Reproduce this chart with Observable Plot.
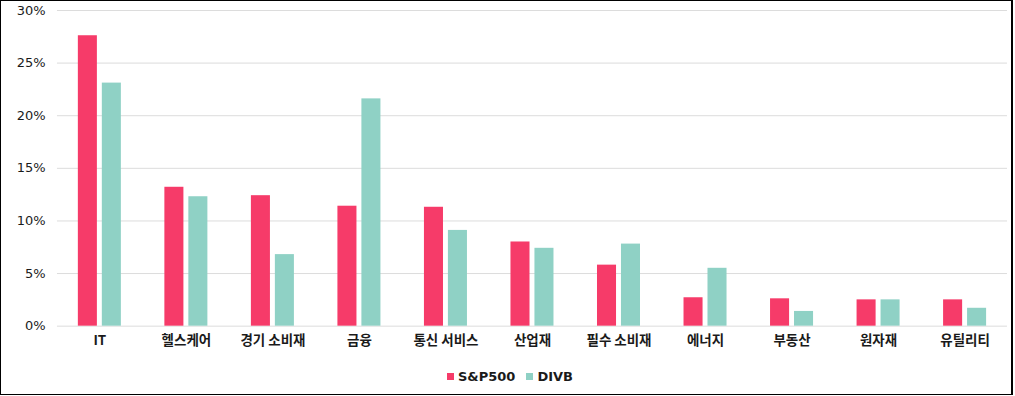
<!DOCTYPE html>
<html>
<head>
<meta charset="utf-8">
<script src="https://cdn.jsdelivr.net/npm/d3@7"></script>
<script src="https://cdn.jsdelivr.net/npm/@observablehq/plot@0.6"></script>
<style>
  html, body { margin: 0; padding: 0; background: #fff; }
  #frame {
    box-sizing: border-box;
    width: 1013px; height: 395px;
    border: 1px solid #000; border-right-width: 2px;
    position: relative; overflow: hidden;
    font-family: "DejaVu Sans", "Noto Sans CJK KR", sans-serif;
  }
  #chart svg { overflow: visible; }
  #legend {
    position: absolute; left: 0; right: 0; top: 368px;
    display: flex; justify-content: center; gap: 11px;
    padding-left: 8px;
    font-size: 13px; font-weight: 700; color: #1a1a1a;
  }
  .item { display: flex; align-items: center; gap: 4px; }
  .sw { width: 7px; height: 7px; display: inline-block; }
</style>
</head>
<body>
<div id="frame">
  <div id="chart"></div>
  <div id="legend"></div>
</div>
<script>
const categories = ["IT", "헬스케어", "경기 소비재", "금융", "통신 서비스", "산업재", "필수 소비재", "에너지", "부동산", "원자재", "유틸리티"];
const seriesNames = ["S&P500", "DIVB"];
const sp500 = [27.6, 13.2, 12.4, 11.4, 11.3, 8.0, 5.8, 2.7, 2.6, 2.5, 2.5];
const divb  = [23.1, 12.3, 6.8, 21.6, 9.1, 7.4, 7.8, 5.5, 1.4, 2.5, 1.7];
const yTicks = [0, 5, 10, 15, 20, 25, 30];
const colors = ["#f63b69", "#8fd1c5"];

const spData = categories.map((c, i) => ({category: c, series: seriesNames[0], value: sp500[i]}));
const dvData = categories.map((c, i) => ({category: c, series: seriesNames[1], value: divb[i]}));

const chart = Plot.plot({
  width: 1011,
  height: 355,
  marginLeft: 56,
  marginRight: 4,
  marginTop: 9,
  marginBottom: 30,
  style: {fontFamily: "'Noto Sans CJK KR', 'Noto Sans', sans-serif", background: "transparent", color: "#1a1a1a"},
  x: {domain: categories, paddingInner: 0.78, paddingOuter: 0.38, round: false, label: null, tickSize: 0, tickPadding: 9},
  y: {domain: [0, 30], ticks: yTicks, tickFormat: d => d + "%", label: null, tickSize: 0, tickPadding: 12},
  color: {domain: seriesNames, range: colors},
  marks: [
    Plot.ruleY(yTicks, {stroke: "#dcdcdc", strokeWidth: 1}),
    Plot.barY(spData, {x: "category", y: "value", fill: "series", dx: -12}),
    Plot.barY(dvData, {x: "category", y: "value", fill: "series", dx: 12})
  ]
});
chart.querySelectorAll("g[aria-label='x-axis tick label'] text, g[aria-label='x-axis'] text").forEach(t => {
  t.style.fontSize = "13.5px"; t.style.fontWeight = "700";
});
chart.querySelectorAll("g[aria-label='y-axis tick label'] text, g[aria-label='y-axis'] text").forEach(t => {
  t.style.fontSize = "13px"; t.style.fontWeight = "500";
  t.style.fontFamily = "'DejaVu Sans', sans-serif";
});
document.getElementById("chart").appendChild(chart);

const legend = document.getElementById("legend");
seriesNames.forEach((s, i) => {
  const it = document.createElement("div");
  it.className = "item";
  it.innerHTML = `<span class="sw" style="background:${colors[i]}"></span><span>${s}</span>`;
  legend.appendChild(it);
});
</script>
</body>
</html>
